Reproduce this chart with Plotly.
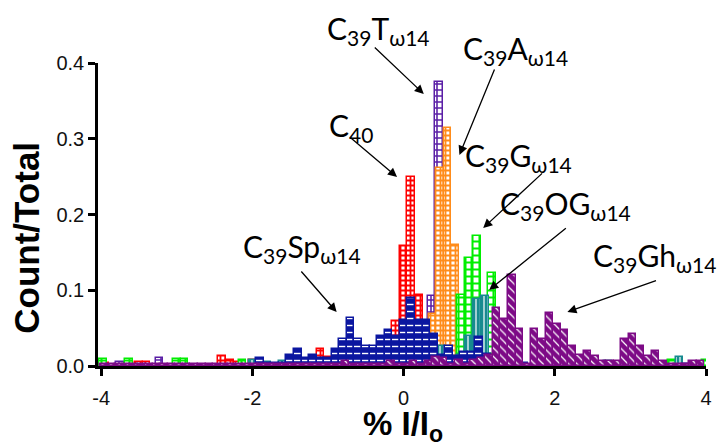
import plotly.graph_objects as go

# ---------------- data (bin centres, % I/Io ; heights, Count/Total) ----------------
t_x = [-3.75, -3.23, -2.30, 0.37, 0.47]
t_y = [0.005, 0.010, 0.007, 0.092, 0.375]

c40_x = [-3.95, -3.50, -3.40, -2.40, -2.30, -2.20, -2.00, -1.10, -1.00, -0.10, 0.00, 0.10, 0.20]
c40_y = [0.004, 0.005, 0.005, 0.013, 0.008, 0.005, 0.008, 0.022, 0.012, 0.059, 0.158, 0.250, 0.094]

a_x = [0.28, 0.38, 0.48, 0.58, 0.68]
a_y = [0.040, 0.068, 0.262, 0.314, 0.160]

g_x = [-3.98, -3.63, -3.00, -2.90, -2.13, 0.76, 0.86, 0.97, 1.07, 1.17, 3.55, 4.00]
g_y = [0.009, 0.009, 0.009, 0.009, 0.008, 0.094, 0.142, 0.171, 0.090, 0.123, 0.008, 0.008]

og_x = [-2.00, -1.80, -1.60, 0.50, 0.76, 0.86, 0.97, 1.08, 2.70, 3.65]
og_y = [0.008, 0.005, 0.006, 0.026, 0.015, 0.039, 0.088, 0.093, 0.006, 0.012]

sp_x = [-1.9, -1.8, -1.7, -1.6, -1.5, -1.4, -1.3, -1.2, -1.1, -1.0, -0.9, -0.8, -0.7, -0.6,
        -0.5, -0.4, -0.3, -0.2, -0.1, 0.0, 0.1, 0.2, 0.3, 0.4, 0.5, 0.6, 0.7, 0.8, 0.9, 1.0,
        1.1, 1.6, 3.75]
sp_y = [0.011, 0.004, 0.004, 0.004, 0.015, 0.022, 0.011, 0.015, 0.011, 0.011, 0.022, 0.035,
        0.064, 0.035, 0.027, 0.027, 0.039, 0.047, 0.039, 0.061, 0.090, 0.061, 0.061, 0.042,
        0.015, 0.026, 0.013, 0.018, 0.018, 0.038, 0.016, 0.004, 0.003]

gh_x = [round(-3.97 + 0.1 * i, 2) for i in range(80)]
gh_y = [0.003, 0.003, 0.003, 0.003, 0.003, 0.003, 0.003, 0.003, 0.003, 0.003,
        0.003, 0.003, 0.003, 0.003, 0.003, 0.003, 0.003, 0.003, 0.003, 0.003,
        0.003, 0.003, 0.003, 0.003, 0.003, 0.003, 0.003, 0.003, 0.003, 0.003,
        0.003, 0.003, 0.007, 0.003, 0.003, 0.003, 0.003, 0.003, 0.006, 0.003,
        0.003, 0.007, 0.003, 0.006, 0.012, 0.010, 0.003, 0.008, 0.003, 0.008,
        0.010, 0.014, 0.077, 0.062, 0.120, 0.049, 0.003, 0.049, 0.035, 0.070,
        0.056, 0.048, 0.027, 0.014, 0.020, 0.013, 0.006, 0.006, 0.006, 0.035,
        0.042, 0.027, 0.013, 0.020, 0.006, 0.003, 0.003, 0.003, 0.006, 0.006]

x_ticks = [-4, -2, 0, 2, 4]
x_ticklabels = ["-4", "-2", "0", "2", "4"]
y_ticks = [0.0, 0.1, 0.2, 0.3, 0.4]
y_ticklabels = ["0.0", "0.1", "0.2", "0.3", "0.4"]

BIN = 0.1

series = [
    # name, x, y, edge colour, pattern shape, pattern fg, pattern bg, size, solidity
    ("C39T", t_x, t_y, "#5a1ea6", "+", "#5a1ea6", "white", 6, 0.45),
    ("C40", c40_x, c40_y, "#ff0000", "+", "#ff0000", "white", 5, 0.6),
    ("C39A", a_x, a_y, "#ff8c1a", "+", "#ff8c1a", "white", 5, 0.6),
    ("C39G", g_x, g_y, "#00ee00", "+", "#00ee00", "white", 7, 0.5),
    ("C39OG", og_x, og_y, "#178a8f", "|", "white", "#178a8f", 4, 0.3),
    ("C39Sp", sp_x, sp_y, "#0b16a0", "-", "white", "#0b16a0", 7, 0.2),
    ("C39Gh", gh_x, gh_y, "#7d0a86", "\\", "white", "#7d0a86", 6, 0.2),
]

fig = go.Figure()
for name, xs, ys, col, shp, fg, bg, sz, sol in series:
    fig.add_trace(go.Bar(
        x=xs, y=ys, name=name, width=BIN,
        marker=dict(color=bg, line=dict(color=col, width=1.5),
                    pattern=dict(shape=shp, fgcolor=fg, bgcolor=bg, size=sz,
                                 solidity=sol, fillmode="replace")),
        showlegend=False,
    ))

L, R, T, B = 98, 7, 63, 77
W, H = 719, 443
X0, X1 = -4.043, 4.0
Y0, Y1 = 0.0, 0.4


def px2x(px):
    return X0 + (px - L) / (W - L - R) * (X1 - X0)


def py2y(py):
    return Y0 + (H - B - py) / (H - T - B) * (Y1 - Y0)


def px2p(px):
    return (px - L) / (W - L - R)


def py2p(py):
    return (H - B - py) / (H - T - B)


arrows = [  # head px, tail px
    ((427, 94), (376, 46)),
    ((463, 155), (499, 68)),
    ((400, 177), (351, 136)),
    ((487, 228), (548, 172)),
    ((493, 290), (572, 227)),
    ((339, 312), (302, 270)),
    ((572, 312), (663, 280)),
]
labels = [
    ("C<sub>39</sub>T<sub>ω14</sub>", 381, 30),
    ("C<sub>39</sub>A<sub>ω14</sub>", 520, 50),
    ("C<sub>40</sub>", 354, 127),
    ("C<sub>39</sub>G<sub>ω14</sub>", 523, 157),
    ("C<sub>39</sub>OG<sub>ω14</sub>", 570, 205),
    ("C<sub>39</sub>Sp<sub>ω14</sub>", 304, 248),
    ("C<sub>39</sub>Gh<sub>ω14</sub>", 660, 257),
]

ann = []
for (hx, hy), (tx, ty) in arrows:
    ann.append(dict(x=px2x(hx), y=py2y(hy), ax=px2x(tx), ay=py2y(ty),
                    xref="x", yref="y", axref="x", ayref="y", text="",
                    showarrow=True, arrowhead=2, arrowsize=1.4, arrowwidth=1.3,
                    arrowcolor="black"))
for txt, cx, cy in labels:
    ann.append(dict(x=px2p(cx), y=py2p(cy), xref="paper", yref="paper", text=txt,
                    showarrow=False, xanchor="center", yanchor="middle",
                    font=dict(family="Lato", size=30, color="black")))

ann.append(dict(x=px2p(25), y=py2p(238), xref="paper", yref="paper",
                text="<b>Count/Total</b>", textangle=-90, showarrow=False,
                xanchor="center", yanchor="middle",
                font=dict(family="Liberation Sans", size=35, color="black")))
ann.append(dict(x=px2p(406), y=py2p(426), xref="paper", yref="paper",
                text="<b>% I/I<sub>o</sub></b>", showarrow=False,
                xanchor="center", yanchor="middle",
                font=dict(family="Liberation Sans", size=33, color="black")))

axis_common = dict(showline=True, linecolor="black", linewidth=2.5, ticks="outside",
                   ticklen=7, tickwidth=2.5, tickcolor="black", showgrid=False,
                   zeroline=False, tickfont=dict(family="Liberation Sans", size=20, color="#111"))

fig.update_layout(
    width=W, height=H, margin=dict(l=L, r=R, t=T, b=B),
    paper_bgcolor="white", plot_bgcolor="white",
    barmode="overlay", bargap=0,
    xaxis=dict(range=[X0, X1], tickvals=x_ticks, ticktext=x_ticklabels,
               ticklabelstandoff=5, **axis_common),
    yaxis=dict(range=[Y0, Y1], tickvals=y_ticks, ticktext=y_ticklabels, **axis_common),
    annotations=ann,
)

fig.write_html("out.html")
